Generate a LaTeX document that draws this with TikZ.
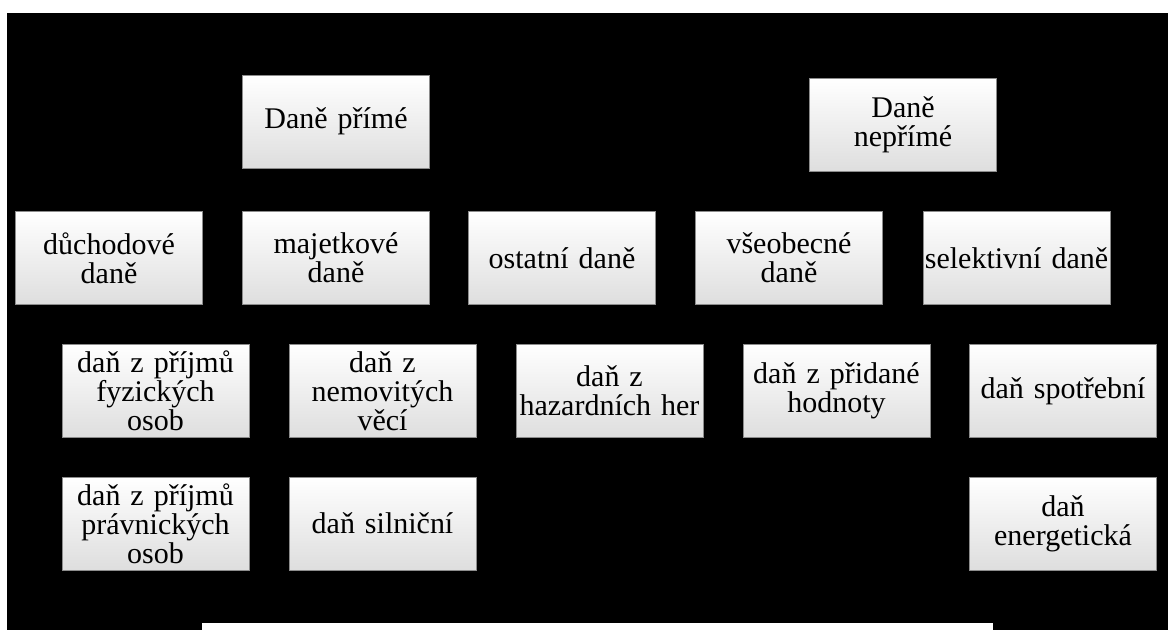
\documentclass[tikz,border=0pt]{standalone}
\usepackage{fontspec}
\setmainfont{Liberation Serif}
\begin{document}
\begin{tikzpicture}[x=1pt,y=-1pt,
  box/.style={draw=black!45, line width=0.8pt, top color=white, middle color=white, bottom color=black!13,
    minimum width=187pt, minimum height=93pt, inner sep=0pt, text width=186pt, align=center,
    font=\fontsize{30}{29}\selectfont}]
\useasboundingbox (0,0) rectangle (1168,630);
\fill[white] (0,0) rectangle (1168,630);
\fill[black] (7,13) rectangle (1168,630);
\fill[white] (202,623) rectangle (993,630);
% top
\node[box] (dp) at (336,121.5) {Daně přímé};
\node[box] (dn) at (903,125) {Daně\\nepřímé};
% row 2
\node[box] (duch) at (109,258) {důchodové\\daně};
\node[box] (maj) at (336,258) {majetkové\\daně};
\node[box] (ost) at (562,258) {ostatní daně};
\node[box] (vseo) at (789,258) {všeobecné\\daně};
\node[box] (sel) at (1016.5,258) {selektivní daně};
% row 3
\node[box] (fyz) at (155.5,391) {daň z příjmů\\fyzických\\osob};
\node[box] (nem) at (382.5,391) {daň z\\nemovitých\\věcí};
\node[box] (haz) at (609.5,391) {daň z\\hazardních her};
\node[box] (dph) at (836.5,391) {daň z přidané\\hodnoty};
\node[box] (spot) at (1063,391) {daň spotřební};
% row 4
\node[box] (prav) at (155.5,523.5) {daň z příjmů\\právnických\\osob};
\node[box] (siln) at (382.5,523.5) {daň silniční};
\node[box] (ener) at (1063,523.5) {daň\\energetická};
\end{tikzpicture}
\end{document}
